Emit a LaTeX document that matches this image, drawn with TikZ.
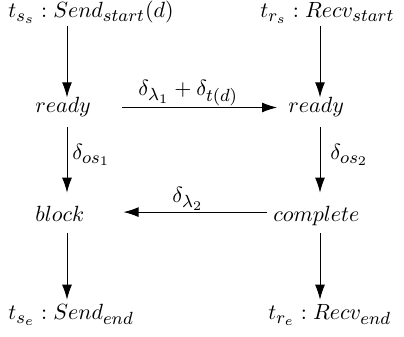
\documentclass[tikz,border=0pt]{standalone}
\usetikzlibrary{arrows.meta}
\DeclareMathSizes{10}{10}{8}{6}
\begin{document}
\begin{tikzpicture}[
x=0.4545pt,y=-0.4545pt,
every node/.style={inner sep=0pt,anchor=base west},
arr/.style={-{Latex[length=6.8pt,width=4.5pt]}}
]
\useasboundingbox (0,0) rectangle (404,337);
\coordinate (colL) at (67,0);
\coordinate (colR) at (320,0);
\node (ss) at (8,18) {$t_{s_s} : Send_{start}(d)$};
\node (rs) at (260,18) {$t_{r_s} : Recv_{start}$};
\node (sready) at (35,113) {$ready$};
\node (rready) at (288,113) {$ready$};
\node (sblock) at (35,222) {$block$};
\node (rcomplete) at (273,222) {$complete$};
\node (se) at (8,320) {$t_{s_e} : Send_{end}$};
\node (re) at (268,320) {$t_{r_e} : Recv_{end}$};
\node (lam1) at (138,96) {$\delta_{\lambda_1} + \delta_{t(d)}$};
\node (os1) at (72,160) {$\delta_{os_1}$};
\node (os2) at (330,160) {$\delta_{os_2}$};
\node (lam2) at (172,203) {$\delta_{\lambda_2}$};
\draw[arr,shorten <=1pt] (ss.south -| colL) -- (sready.north -| colL);
\draw[arr,shorten <=1pt] (rs.south -| colR) -- (rready.north -| colR);
\draw[arr,shorten <=14pt,shorten >=5pt] (sready.east) -- (rready.west);
\draw[arr,shorten <=4.4pt,shorten >=6.2pt] (sready.south -| colL) -- (sblock.north -| colL);
\draw[arr,shorten <=4.4pt,shorten >=6.2pt] (rready.south -| colR) -- (rcomplete.north -| colR);
\draw[arr,shorten <=2.7pt,shorten >=17.7pt] ([yshift=2pt]rcomplete.west) -- ([yshift=2pt]rcomplete.west -| sblock.east);
\draw[arr,shorten <=5pt,shorten >=2.1pt] (sblock.south -| colL) -- (se.north -| colL);
\draw[arr,shorten <=3pt,shorten >=2.2pt] (rcomplete.south -| colR) -- (re.north -| colR);
\end{tikzpicture}
\end{document}
